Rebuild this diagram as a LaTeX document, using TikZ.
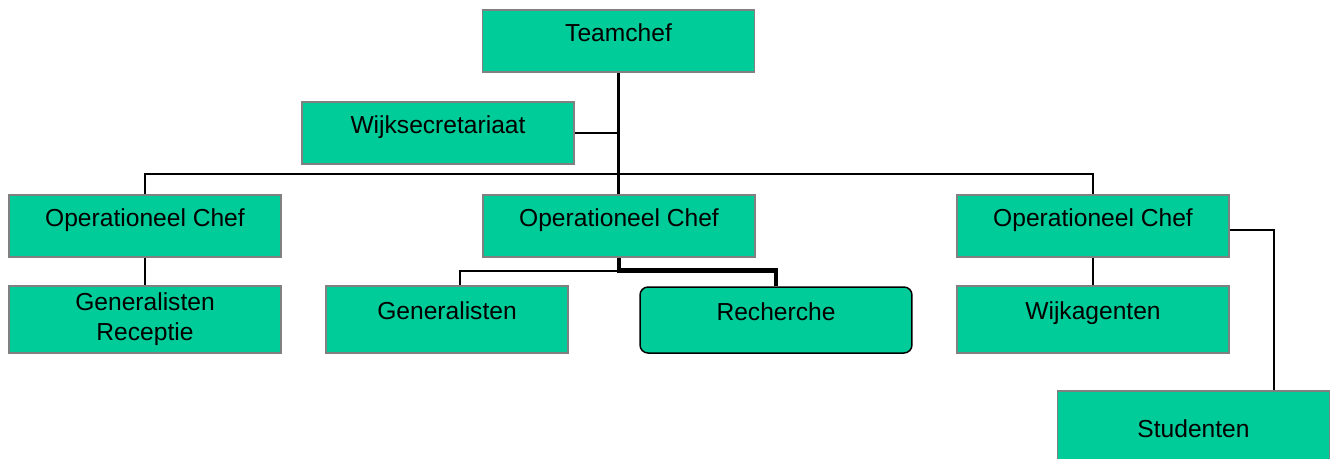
\documentclass[tikz,border=0pt]{standalone}
\usepackage{fontspec}
\setmainfont{Liberation Sans}
\usepackage{xcolor}
\definecolor{teamgreen}{RGB}{0,204,153}

\tikzset{
  unit/.style={draw=gray, line width=0.85pt, fill=teamgreen, minimum width=5.44cm,
    minimum height=1.24cm, inner sep=0pt, text height=0.8em, text depth=0.8em,
    font=\fontsize{14}{17}\selectfont, align=center},
  link/.style={line width=1.1pt},
  mainlink/.style={line width=1.7pt},
  boldlink/.style={line width=2.8pt}
}

\begin{document}
\begin{tikzpicture}[x=0.02cm, y=-0.02cm]
  % page frame
  \clip (0,0) rectangle (1333,458);

  % boxes
  \node[unit] (chef) at (618.5,41) {Teamchef};
  \node[unit] (secr) at (438,133) {Wijksecretariaat};
  \node[unit] (opl) at (145,226) {Operationeel Chef};
  \node[unit] (opm) at (619,226) {Operationeel Chef};
  \node[unit] (opr) at (1093,226) {Operationeel Chef};
  \node[unit, minimum height=1.34cm, text height=, text depth=] (genrec) at (145,319.5) {Generalisten\\Receptie};
  \node[unit, minimum width=4.84cm, minimum height=1.34cm] (gen) at (447,319.5) {Generalisten};
  \node[unit, draw=black, rounded corners=0.16cm, minimum height=1.32cm] (rech) at (776,320) {Recherche};
  \node[unit, minimum height=1.34cm] (wijk) at (1093,319.5) {Wijkagenten};
  \node[unit, minimum height=1.84cm] (stud) at (1193.5,437) {Studenten};

  % connectors
  \coordinate (bus) at (0,174);
  \draw[mainlink] (chef.south) -- (chef.south |- opm.north);
  \draw[link] (secr.east) -- (secr.east -| chef.south);
  \draw[link] (opl.north) |- (bus -| opr.north) -- (opr.north);
  \draw[link] (opl.south) -- (genrec.north);
  \draw[link] (opr.south) -- (wijk.north);
  \draw[link] ([yshift=-0.08cm]opr.east) -| ([xshift=1.61cm]stud.north);
  \draw[link] (opm.south) -- ++(0,13) -| ([xshift=0.26cm]gen.north);
  \draw[boldlink] (opm.south) -- ++(0,13) -| (rech.north);
\end{tikzpicture}
\end{document}
